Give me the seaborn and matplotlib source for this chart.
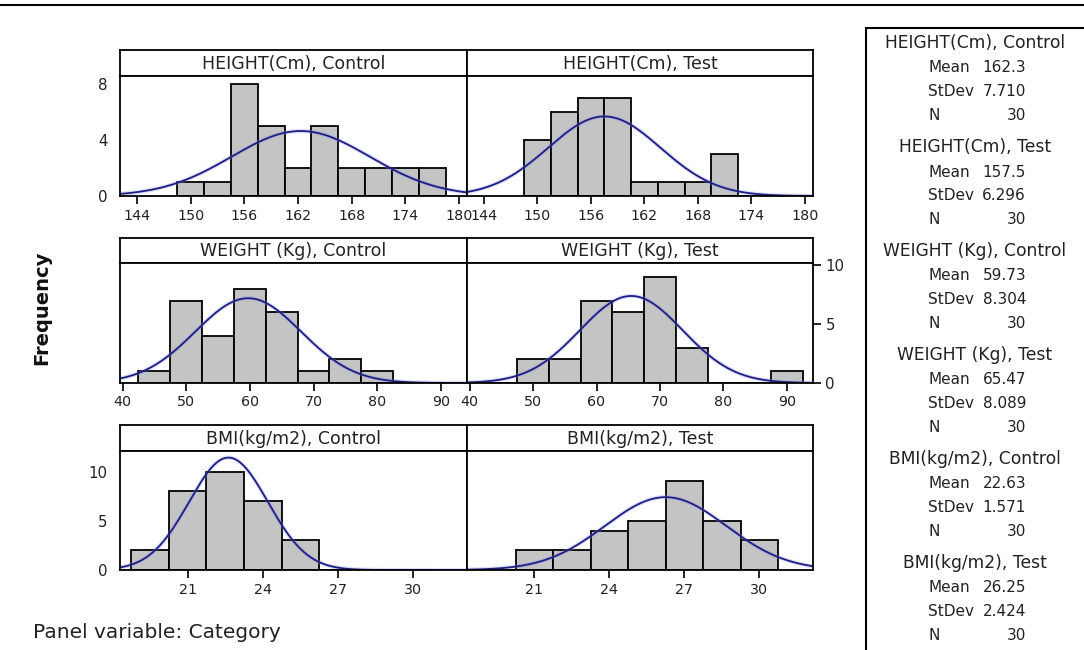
import numpy as np
import pandas as pd
import matplotlib
matplotlib.use("Agg")
import matplotlib.pyplot as plt
from matplotlib.lines import Line2D
from matplotlib.patches import Rectangle
import seaborn as sns

sns.set_theme(style="white")
plt.rcParams['font.family'] = ['DejaVu Sans']

# ---------------- data ----------------
variables = ["HEIGHT(Cm)", "WEIGHT (Kg)", "BMI(kg/m2)"]
groups = ["Control", "Test"]

height_bin_centers = [150, 153, 156, 159, 162, 165, 168, 171, 174, 177]
height_control_counts = [1, 1, 8, 5, 2, 5, 2, 2, 2, 2]
height_test_counts = [4, 6, 7, 7, 1, 1, 1, 3, 0, 0]

weight_bin_centers = [45, 50, 55, 60, 65, 70, 75, 80, 85, 90]
weight_control_counts = [1, 7, 4, 8, 6, 1, 2, 1, 0, 0]
weight_test_counts = [0, 2, 2, 7, 6, 9, 3, 0, 0, 1]

bmi_bin_centers = [19.5, 21, 22.5, 24, 25.5, 27, 28.5, 30]
bmi_control_counts = [2, 8, 10, 7, 3, 0, 0, 0]
bmi_test_counts = [0, 2, 2, 4, 5, 9, 5, 3]

means = {"HEIGHT(Cm)": [162.3, 157.5], "WEIGHT (Kg)": [59.73, 65.47], "BMI(kg/m2)": [22.63, 26.25]}
stdevs = {"HEIGHT(Cm)": [7.710, 6.296], "WEIGHT (Kg)": [8.304, 8.089], "BMI(kg/m2)": [1.571, 2.424]}
mean_labels = {"HEIGHT(Cm)": ["162.3", "157.5"], "WEIGHT (Kg)": ["59.73", "65.47"], "BMI(kg/m2)": ["22.63", "26.25"]}
stdev_labels = {"HEIGHT(Cm)": ["7.710", "6.296"], "WEIGHT (Kg)": ["8.304", "8.089"], "BMI(kg/m2)": ["1.571", "2.424"]}
n_obs = [30, 30]

bin_centers = {"HEIGHT(Cm)": height_bin_centers, "WEIGHT (Kg)": weight_bin_centers, "BMI(kg/m2)": bmi_bin_centers}
counts = {"HEIGHT(Cm)": [height_control_counts, height_test_counts],
          "WEIGHT (Kg)": [weight_control_counts, weight_test_counts],
          "BMI(kg/m2)": [bmi_control_counts, bmi_test_counts]}
x_ticks = {"HEIGHT(Cm)": [144, 150, 156, 162, 168, 174, 180],
           "WEIGHT (Kg)": [40, 50, 60, 70, 80, 90],
           "BMI(kg/m2)": [21, 24, 27, 30]}
y_ticks = {"HEIGHT(Cm)": [0, 4, 8], "WEIGHT (Kg)": [0, 5, 10], "BMI(kg/m2)": [0, 5, 10]}

# ---------------- layout (pixels) ----------------
W, H = 1084, 650
fig = plt.figure(figsize=(W / 100, H / 100), dpi=100)
fig.patch.set_facecolor("white")

x_lims = {"HEIGHT(Cm)": (142.1, 180.9), "WEIGHT (Kg)": (39.6, 94.1), "BMI(kg/m2)": (18.3, 32.15)}
y_lims = {"HEIGHT(Cm)": (0, 8.6), "WEIGHT (Kg)": (0, 10.2), "BMI(kg/m2)": (0, 12.1)}
rows_px = [(50, 76, 196), (238, 263, 383), (425, 451, 570)]
cols_px = [(120, 467), (467, 813)]
ytick_side = {0: ("left", 0), 1: ("right", 1), 2: ("left", 0)}


def px_axes(x0, y0, x1, y1):
    return fig.add_axes([x0 / W, 1 - y1 / H, (x1 - x0) / W, (y1 - y0) / H])


bar_color = "#c4c4c4"
curve_color = "#1e1e80"
SP_LW = 1.3
TICK_FS = 10.3

for r, var in enumerate(variables):
    strip_top, plot_top, plot_bot = rows_px[r]
    centers = np.array(bin_centers[var], dtype=float)
    width = centers[1] - centers[0]
    edges = [float(e) for e in np.append(centers - width / 2, centers[-1] + width / 2)]
    for c, grp in enumerate(groups):
        x0, x1 = cols_px[c]
        # strip
        sax = px_axes(x0, strip_top, x1, plot_top)
        sax.set_xticks([]); sax.set_yticks([])
        for s in sax.spines.values():
            s.set_color("black"); s.set_linewidth(SP_LW)
        sax.text(0.5, 0.47, f"{var}, {grp}", ha="center", va="center",
                 fontsize=12.5, color="#222222", transform=sax.transAxes)
        # panel
        ax = px_axes(x0, plot_top, x1, plot_bot)
        cnt = np.array(counts[var][c], dtype=float)
        mask = cnt > 0
        df = pd.DataFrame({"x": centers[mask], "w": cnt[mask]})
        sns.histplot(data=df, x="x", weights="w", bins=edges, ax=ax,
                     color=bar_color, edgecolor="black", linewidth=1.3, alpha=1.0)
        lo, hi = x_lims[var]
        xs = np.linspace(lo, hi, 400)
        mu, sd = means[var][c], stdevs[var][c]
        ys = n_obs[c] * width * np.exp(-0.5 * ((xs - mu) / sd) ** 2) / (sd * np.sqrt(2 * np.pi))
        sns.lineplot(x=xs, y=ys, ax=ax, color="#8c8cf0", linewidth=3.0, alpha=0.3)
        sns.lineplot(x=xs, y=ys, ax=ax, color=curve_color, linewidth=1.3)
        ax.set_xlim(lo, hi)
        ax.set_ylim(*y_lims[var])
        ax.set_xlabel(""); ax.set_ylabel("")
        ax.set_xticks(x_ticks[var])
        ax.set_xticklabels([str(t) for t in x_ticks[var]])
        ax.tick_params(axis="x", direction="out", length=6, width=1.2, pad=3,
                       labelsize=TICK_FS, colors="black", labelcolor="#222222", bottom=True)
        side, col_with = ytick_side[r]
        if c == col_with:
            ax.set_yticks(y_ticks[var])
            ax.set_yticklabels([str(t) for t in y_ticks[var]])
            if side == "right":
                ax.yaxis.tick_right()
            ax.tick_params(axis="y", direction="out", length=6, width=1.2, pad=3,
                           labelsize=TICK_FS + 0.5, colors="black", labelcolor="#222222")
        else:
            ax.set_yticks([])
        for s in ax.spines.values():
            s.set_visible(True); s.set_color("black"); s.set_linewidth(SP_LW)
        ax.set_facecolor("white")

# y label
fig.text(42 / W, 1 - 308 / H, "Frequency", rotation=90, ha="center", va="center",
         fontsize=14, fontweight="bold", color="#111111")
# panel variable note
fig.text(33 / W, 1 - 632 / H, "Panel variable: Category", ha="left", va="center",
         fontsize=14.5, color="#222222")

# top border line
fig.add_artist(Line2D([0, 1], [1 - 5 / H, 1 - 5 / H], color="black", linewidth=1.5,
                      transform=fig.transFigure))

# stats box
fig.add_artist(Rectangle((866 / W, -0.05), (W + 20 - 866) / W, (1 - 28 / H) + 0.05,
                         transform=fig.transFigure, fill=False, edgecolor="black",
                         linewidth=1.5))
title_x, label_x, value_x = 975, 928, 1026
k = 0
for r, var in enumerate(variables):
    for c, grp in enumerate(groups):
        y0 = 43 + k * 104.0
        fig.text(title_x / W, 1 - y0 / H, f"{var}, {grp}", ha="center", va="center",
                 fontsize=12.3, color="#222222")
        rows_txt = [("Mean", mean_labels[var][c]), ("StDev", stdev_labels[var][c]), ("N", str(n_obs[c]))]
        for j, (lab, val) in enumerate(rows_txt):
            yy = y0 + 25 + j * 23.5
            fig.text(label_x / W, 1 - yy / H, lab, ha="left", va="center",
                     fontsize=11, color="#222222")
            fig.text(value_x / W, 1 - yy / H, val, ha="right", va="center",
                     fontsize=11, color="#222222")
        k += 1

fig.savefig("out.png", dpi=100, facecolor="white")
